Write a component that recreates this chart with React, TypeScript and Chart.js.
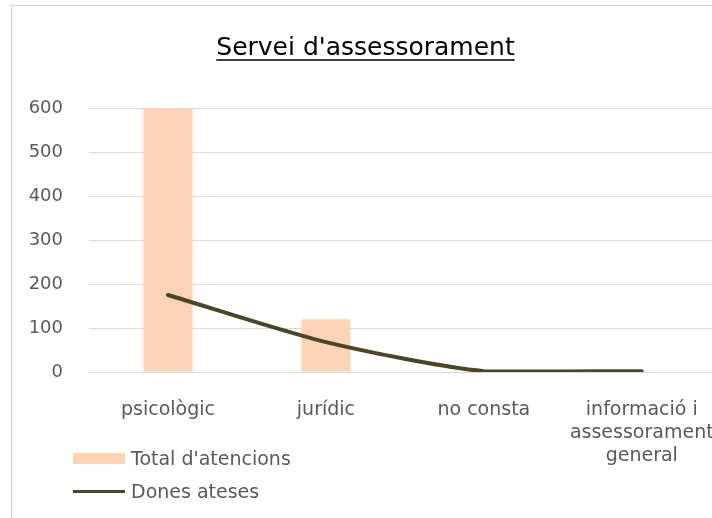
import React, { useEffect, useRef } from "react";
import { Chart, registerables } from "chart.js";

Chart.register(...registerables);

const categories: (string | string[])[] = [
  "psicològic",
  "jurídic",
  "no consta",
  ["informació i", "assessorament", "general"],
];
const totalAtencions = [599, 120, 0, 0];
const donesAteses = [175, 68, 2, 2];
const yTicks = [0, 100, 200, 300, 400, 500, 600];

const TITLE = "Servei d'assessorament";
const FONT = "'DejaVu Sans', sans-serif";
const BAR_COLOR = "#FBD4B4";
const LINE_COLOR = "#4B4527";
const TEXT_COLOR = "#595959";

const underlinePlugin = {
  id: "titleUnderline",
  afterDraw(chart: any) {
    const tb = chart.titleBlock;
    if (!tb) return;
    const ctx = chart.ctx;
    ctx.save();
    ctx.font = `25px ${FONT}`;
    const w = ctx.measureText(TITLE).width;
    const cx = tb.left + tb.width / 2;
    ctx.strokeStyle = "#000";
    ctx.lineWidth = 1.6;
    ctx.beginPath();
    ctx.moveTo(cx - w / 2, 60);
    ctx.lineTo(cx + w / 2, 60);
    ctx.stroke();
    ctx.restore();
  },
};

export default function App() {
  const ref = useRef<HTMLCanvasElement | null>(null);

  useEffect(() => {
    if (!ref.current) return;
    const chart = new Chart(ref.current, {
      type: "bar",
      data: {
        labels: categories,
        datasets: [
          {
            type: "line",
            label: "Dones ateses",
            data: donesAteses,
            borderColor: LINE_COLOR,
            backgroundColor: LINE_COLOR,
            borderWidth: 4,
            pointRadius: 0,
            tension: 0.25,
            borderCapStyle: "round",
            order: 0,
          },
          {
            type: "bar",
            label: "Total d'atencions",
            data: totalAtencions,
            backgroundColor: BAR_COLOR,
            borderWidth: 0,
            categoryPercentage: 1,
            barPercentage: 0.311,
            order: 1,
          },
        ],
      } as any,
      options: {
        animation: false,
        responsive: false,
        devicePixelRatio: 1,
        layout: { padding: { left: 0, right: 11, top: 0, bottom: 23 } },
        plugins: {
          legend: { display: false },
          tooltip: { enabled: false },
          title: {
            display: true,
            text: TITLE,
            color: "#000",
            font: { family: FONT, size: 25, weight: "normal" as any, lineHeight: 1.2 },
            padding: { top: 33, bottom: 45 },
          },
        },
        scales: {
          x: {
            grid: { display: false, drawTicks: false },
            border: { display: false },
            ticks: {
              color: TEXT_COLOR,
              font: { family: FONT, size: 19, lineHeight: 1.21 },
              padding: 27,
              maxRotation: 0,
              autoSkip: false,
            },
          },
          y: {
            min: 0,
            max: 600,
            afterFit(scale: any) {
              scale.width = 89;
            },
            afterBuildTicks(scale: any) {
              scale.ticks = yTicks.map((v) => ({ value: v }));
            },
            grid: { color: "#d9d9d9", lineWidth: 1, drawTicks: false },
            border: { display: false },
            ticks: {
              color: TEXT_COLOR,
              font: { family: FONT, size: 18 },
              padding: 26,
            },
          },
        },
      },
      plugins: [underlinePlugin],
    });
    return () => chart.destroy();
  }, []);

  return (
    <div
      style={{
        position: "fixed",
        left: 0,
        top: 0,
        width: 712,
        height: 518,
        overflow: "hidden",
        background: "#fff",
        fontFamily: FONT,
      }}
    >
      <div
        style={{
          position: "absolute",
          left: 11,
          top: 5,
          width: 760,
          height: 560,
          border: "1px solid #d0d0d0",
        }}
      />
      <canvas
        ref={ref}
        width={742}
        height={518}
        style={{ position: "absolute", left: 0, top: 0, width: 742, height: 518 }}
      />
      <div
        style={{
          position: "absolute",
          left: 73,
          top: 453,
          width: 52,
          height: 11,
          background: BAR_COLOR,
        }}
      />
      <div
        style={{
          position: "absolute",
          left: 131,
          top: 446,
          height: 24,
          lineHeight: "24px",
          fontSize: 19,
          color: TEXT_COLOR,
          whiteSpace: "nowrap",
        }}
      >
        Total d'atencions
      </div>
      <div
        style={{
          position: "absolute",
          left: 73,
          top: 490,
          width: 52,
          height: 3,
          background: LINE_COLOR,
        }}
      />
      <div
        style={{
          position: "absolute",
          left: 131,
          top: 479,
          height: 24,
          lineHeight: "24px",
          fontSize: 19,
          color: TEXT_COLOR,
          whiteSpace: "nowrap",
        }}
      >
        Dones ateses
      </div>
    </div>
  );
}
